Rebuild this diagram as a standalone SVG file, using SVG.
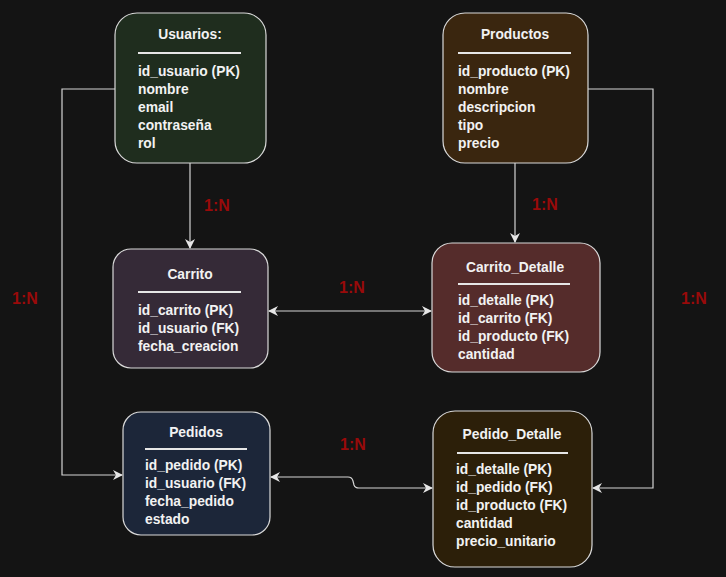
<svg xmlns="http://www.w3.org/2000/svg" width="726" height="577" viewBox="0 0 726 577">
<defs>
<marker id="arr" viewBox="0 0 10 10" refX="9" refY="5" markerWidth="10" markerHeight="10" markerUnits="userSpaceOnUse" orient="auto-start-reverse">
<path d="M0,0 L10,5 L0,10 L3,5 Z" fill="#e6e6e6"/>
</marker>
</defs>
<style>
.box{stroke:#d9d9d9;stroke-width:1.2}
.t{font-family:"Liberation Sans",Arial,sans-serif;font-size:13.8px;font-weight:bold;fill:#f2f2f2}
.c{text-anchor:middle}
.sep{stroke:#e6e6e6;stroke-width:2}
.con{fill:none;stroke:#d4d4d4;stroke-width:1.2}
.lbl{font-family:"Liberation Sans",Arial,sans-serif;font-size:16px;font-weight:bold;fill:#990a0a;text-anchor:middle}
</style>
<rect width="726" height="577" fill="#141414"/>
<g id="connectors">
<path class="con" d="M190,163 L190,248" marker-end="url(#arr)"/>
<path class="con" d="M515,163 L515,242" marker-end="url(#arr)"/>
<path class="con" d="M269,311 L431,311" marker-start="url(#arr)" marker-end="url(#arr)"/>
<path class="con" d="M115,89 L62,89 L62,475 L122,475" marker-end="url(#arr)"/>
<path class="con" d="M588,89 L653,89 L653,488 L593,488" marker-end="url(#arr)"/>
<path class="con" d="M271,477 L348,477 Q352,477 353,481 L354,485 Q355,488 359,488 L432,488" marker-start="url(#arr)" marker-end="url(#arr)"/>
<text class="lbl" x="217" y="211">1:N</text>
<text class="lbl" x="545" y="210">1:N</text>
<text class="lbl" x="352" y="293">1:N</text>
<text class="lbl" x="25" y="304">1:N</text>
<text class="lbl" x="694" y="304">1:N</text>
<text class="lbl" x="353" y="450">1:N</text>
</g>
<g id="usuarios">
<rect class="box" x="115" y="13" width="151" height="150" rx="22" fill="#1f2d1e"/>
<text class="t c" x="190" y="39">Usuarios:</text>
<line class="sep" x1="138" y1="53" x2="241" y2="53"/>
<text class="t" x="138" y="76">id_usuario (PK)</text>
<text class="t" x="138" y="94">nombre</text>
<text class="t" x="138" y="112">email</text>
<text class="t" x="138" y="130">contraseña</text>
<text class="t" x="138" y="148">rol</text>
</g>
<g id="productos">
<rect class="box" x="443" y="13" width="145" height="150" rx="22" fill="#3a260f"/>
<text class="t c" x="515" y="39">Productos</text>
<line class="sep" x1="458" y1="53" x2="571" y2="53"/>
<text class="t" x="458" y="76">id_producto (PK)</text>
<text class="t" x="458" y="94">nombre</text>
<text class="t" x="458" y="112">descripcion</text>
<text class="t" x="458" y="130">tipo</text>
<text class="t" x="458" y="148">precio</text>
</g>
<g id="carrito">
<rect class="box" x="113" y="249" width="155" height="119" rx="18" fill="#352a37"/>
<text class="t c" x="190" y="279">Carrito</text>
<line class="sep" x1="138" y1="292" x2="241" y2="292"/>
<text class="t" x="138" y="315">id_carrito (PK)</text>
<text class="t" x="138" y="333">id_usuario (FK)</text>
<text class="t" x="138" y="351">fecha_creacion</text>
</g>
<g id="carrito_detalle">
<rect class="box" x="432" y="243" width="168" height="129" rx="20" fill="#552c2b"/>
<text class="t c" x="515" y="272">Carrito_Detalle</text>
<line class="sep" x1="458" y1="284" x2="570" y2="284"/>
<text class="t" x="458" y="305">id_detalle (PK)</text>
<text class="t" x="458" y="323">id_carrito (FK)</text>
<text class="t" x="458" y="341">id_producto (FK)</text>
<text class="t" x="458" y="359">cantidad</text>
</g>
<g id="pedidos">
<rect class="box" x="123" y="412" width="147" height="123" rx="18" fill="#1c2639"/>
<text class="t c" x="196" y="437">Pedidos</text>
<line class="sep" x1="145" y1="449" x2="247" y2="449"/>
<text class="t" x="145" y="470">id_pedido (PK)</text>
<text class="t" x="145" y="488">id_usuario (FK)</text>
<text class="t" x="145" y="506">fecha_pedido</text>
<text class="t" x="145" y="524">estado</text>
</g>
<g id="pedido_detalle">
<rect class="box" x="433" y="411" width="159" height="156" rx="22" fill="#2c1f09"/>
<text class="t c" x="512" y="439">Pedido_Detalle</text>
<line class="sep" x1="457" y1="453" x2="568" y2="453"/>
<text class="t" x="456" y="474">id_detalle (PK)</text>
<text class="t" x="456" y="492">id_pedido (FK)</text>
<text class="t" x="456" y="510">id_producto (FK)</text>
<text class="t" x="456" y="528">cantidad</text>
<text class="t" x="456" y="546">precio_unitario</text>
</g>
</svg>
